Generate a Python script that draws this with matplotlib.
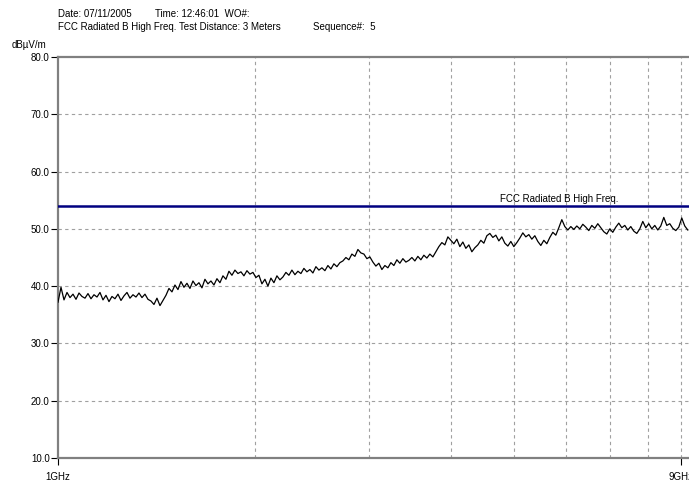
import matplotlib
matplotlib.use("Agg")
import matplotlib.pyplot as plt
from matplotlib.ticker import FixedLocator, NullFormatter
import numpy as np

level_dbuv = [
    37.2, 39.8, 37.6, 38.9, 38.0, 38.6, 37.7, 38.8, 38.2, 37.9, 38.7, 37.8, 38.5, 38.1, 38.9,
    37.6, 38.4, 37.3, 38.2, 37.8, 38.6, 37.5, 38.3, 38.9, 37.9, 38.5, 38.1, 38.8, 38.0, 38.6, 37.7,
    37.4, 36.8, 37.9, 36.6, 37.5,
    38.4, 39.6, 39.0, 40.2, 39.4, 40.8, 39.8, 40.5, 39.6, 40.9, 40.1, 40.6, 39.7, 41.2, 40.4, 40.9, 40.2, 41.3, 40.6,
    41.8, 41.2, 42.6, 41.9, 42.8, 42.2, 42.5, 41.8, 42.7, 42.1, 42.4, 41.5, 41.9,
    40.4, 41.2, 40.0, 41.4, 40.6, 41.8, 41.1,
    41.6, 42.4, 41.9, 42.8, 42.0, 42.6, 42.2, 43.1, 42.5, 42.9, 42.3, 43.4, 42.8, 43.2, 42.7, 43.6, 43.0, 43.9, 43.4, 44.1,
    44.4, 45.0, 44.6, 45.6, 45.2, 46.4, 45.8,
    45.6, 44.8, 45.1, 44.2, 43.5, 44.0, 42.9, 43.6,
    43.2, 44.1, 43.6, 44.6, 44.0, 44.8, 44.2, 44.5, 45.0, 44.4, 45.2, 44.6, 45.4, 44.9, 45.6,
    45.1, 46.0, 46.9, 47.6, 47.2, 48.6, 48.0,
    47.4, 48.2, 46.9, 47.7, 46.6, 47.2, 46.0, 46.7,
    47.2, 48.0, 47.5, 48.8, 49.2, 48.5,
    48.9, 47.9, 48.6, 47.5, 47.0, 47.8, 46.9, 47.6, 48.4,
    49.3, 48.6, 49.0, 48.2, 48.8, 47.8, 47.1, 48.0, 47.4,
    48.5, 49.4, 48.9, 50.2, 51.6, 50.4,
    49.8, 50.4, 49.9, 50.5, 50.0, 50.8, 50.3, 49.7, 50.6, 50.1, 50.9, 50.2, 49.5,
    49.1, 50.0, 49.4, 50.3, 51.0, 50.2, 50.6, 49.8, 50.4, 49.6, 49.2, 50.0,
    51.3, 50.2, 50.9, 50.0, 50.6, 49.8, 50.5, 52.0, 50.6, 50.9, 50.1, 49.7, 50.3, 51.9, 50.5, 49.8,
]
f_start_ghz = 1.0
f_stop_ghz = 9.22
freq_ghz = np.geomspace(f_start_ghz, f_stop_ghz, len(level_dbuv))

limit_dbuv = 54.0
limit_name = "FCC Radiated B High Freq."

y_ticks = [10, 20, 30, 40, 50, 60, 70, 80]
y_labels = ["10.0", "20.0", "30.0", "40.0", "50.0", "60.0", "70.0", "80.0"]
x_ticks = [1, 9]
x_labels = ["1GHz", "9GHz"]
x_grid = [2, 3, 4, 5, 6, 7, 8, 9]

W, H = 689, 484
plt.rcParams["font.family"] = ["Liberation Sans", "DejaVu Sans"]
fs = 7.0

fig = plt.figure(figsize=(W / 100, H / 100), dpi=100)
ax = fig.add_axes([58 / W, (H - 458) / H, (W - 58) / W, (458 - 57) / H])

# raster
ax.set_xscale("log")
ax.set_xlim(1.0, 9.26)
ax.set_ylim(10, 80)
for g in x_grid:
    ax.axvline(g, color="#a0a0a0", lw=0.8, ls=(0, (3, 3)), zorder=1)
for g in y_ticks[1:-1]:
    ax.axhline(g, color="#a0a0a0", lw=0.8, ls=(0, (3, 3)), zorder=1)

# limit und messkurve
ax.axhline(limit_dbuv, color="#000080", lw=1.8, zorder=3)
ax.plot(freq_ghz, level_dbuv, color="black", lw=0.9, zorder=4)
ax.text(4.75, limit_dbuv + 0.4, limit_name, fontsize=fs, ha="left", va="bottom")

ax.xaxis.set_major_locator(FixedLocator(x_ticks))
ax.xaxis.set_minor_locator(FixedLocator([]))
ax.xaxis.set_minor_formatter(NullFormatter())
ax.set_xticklabels(x_labels)
ax.set_yticks(y_ticks)
ax.set_yticklabels(y_labels)
ax.tick_params(axis="both", direction="out", length=5, width=0.8, labelsize=fs, color="black")
ax.tick_params(axis="x", pad=5)
ax.tick_params(axis="y", pad=1)

for s in ["left", "bottom", "top"]:
    ax.spines[s].set_color("#808080")
    ax.spines[s].set_linewidth(1.6)
ax.spines["right"].set_visible(False)

# kopfzeilen
def px(x, y):
    return x / W, 1 - y / H

fig.text(*px(58, 14), "Date: 07/11/2005", fontsize=fs, va="center")
fig.text(*px(155, 14), "Time: 12:46:01  WO#:", fontsize=fs, va="center")
fig.text(*px(58, 27), "FCC Radiated B High Freq. Test Distance: 3 Meters", fontsize=fs, va="center")
fig.text(*px(313, 27), "Sequence#:  5", fontsize=fs, va="center")
fig.text(*px(12, 45), "dB\u00b5V/m", fontsize=fs, va="center")

fig.savefig("out.png", dpi=100)
